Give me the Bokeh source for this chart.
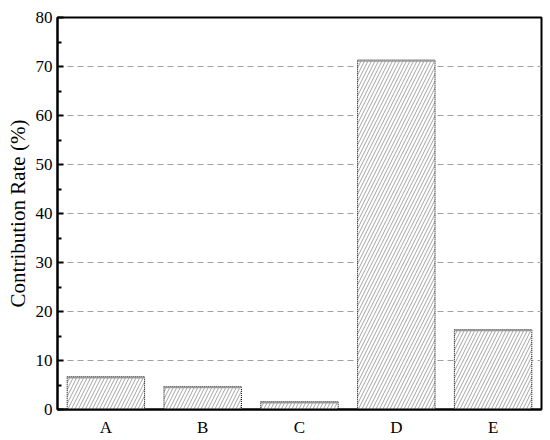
from bokeh.plotting import figure
from bokeh.models import Range1d, FixedTicker, ColumnDataSource
from bokeh.embed import file_html
from bokeh.resources import INLINE

categories = ["A", "B", "C", "D", "E"]
values = [6.7, 4.7, 1.6, 71.3, 16.3]
y_ticks = [0, 10, 20, 30, 40, 50, 60, 70, 80]
y_minor = [5, 15, 25, 35, 45, 55, 65, 75]

cap = 0.3
src = ColumnDataSource(dict(
    x=categories,
    top=values,
    cap_bottom=[v - cap for v in values],
))

p = figure(x_range=categories, y_range=Range1d(0, 80), width=545, height=439,
           output_backend="svg", toolbar_location=None,
           min_border_left=57, min_border_right=4, min_border_top=17, min_border_bottom=27)

p.vbar(x="x", top="top", bottom=0, width=0.8, source=src,
       fill_color="white", line_color="black", line_dash="1 1", line_width=1,
       hatch_pattern="/", hatch_color="#333333", hatch_scale=7, hatch_weight=0.6, hatch_alpha=0.75)
p.vbar(x="x", top="top", bottom="cap_bottom", width=0.8, source=src,
       fill_color="#9a9a9a", line_color="#9a9a9a", line_width=0.5)

p.yaxis.ticker = FixedTicker(ticks=y_ticks, minor_ticks=y_minor)
p.yaxis.axis_label = "Contribution Rate (%)"
for ax in (p.xaxis, p.yaxis):
    ax.axis_line_width = 2
    ax.axis_line_color = "black"
    ax.major_label_text_font = "Liberation Serif"
    ax.major_label_text_font_size = "17px"
    ax.major_label_text_color = "black"
    ax.axis_label_text_font = "Liberation Serif"
    ax.axis_label_text_font_style = "normal"
    ax.axis_label_text_font_size = "21px"
    ax.axis_label_text_color = "black"
p.yaxis.major_tick_in = 6
p.yaxis.major_tick_out = 0
p.yaxis.minor_tick_in = 4
p.yaxis.minor_tick_out = 0
p.yaxis.major_tick_line_width = 2
p.yaxis.minor_tick_line_width = 2
p.yaxis.major_label_standoff = 5
p.yaxis.axis_label_standoff = 3
p.xaxis.major_tick_in = 0
p.xaxis.major_tick_out = 0
p.xaxis.major_label_standoff = 8

p.xgrid.grid_line_color = None
p.ygrid.grid_line_color = "#a0a0a0"
p.ygrid.grid_line_dash = "6 4"
p.ygrid.grid_line_width = 1

p.outline_line_color = "black"
p.outline_line_width = 2
p.outline_line_alpha = 1

open("out.html", "w").write(file_html(p, INLINE))
